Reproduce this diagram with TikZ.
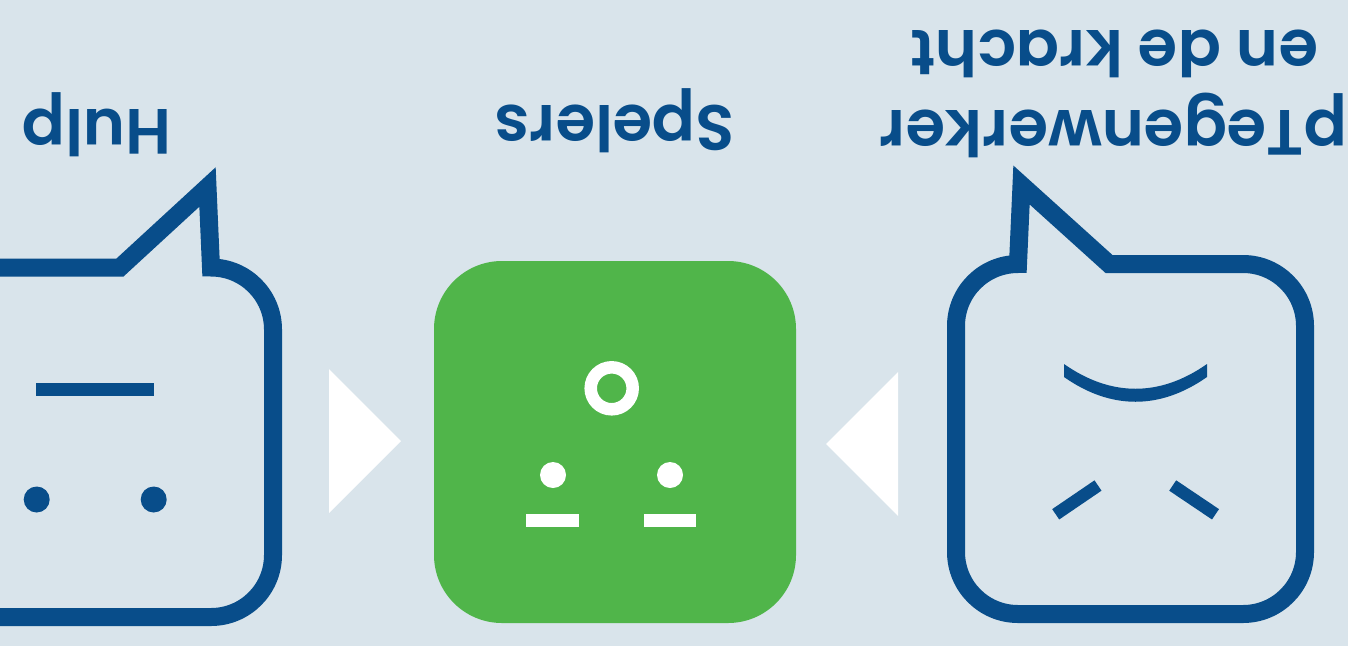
\documentclass[tikz,border=0pt]{standalone}
\usepackage{xcolor}
\usepackage{fontspec}
\setmainfont{Poppins SemiBold}
\usepackage{tikz}
\definecolor{mainc}{HTML}{084D8A}
\definecolor{greenc}{HTML}{50B54A}
\definecolor{softbg}{HTML}{D9E4EB}
\tikzset{
  bubble/.style={draw=mainc,line width=18pt,miter limit=10},
  lbl/.style={text=mainc,rotate=180,anchor=base,inner sep=0pt,font=\fontsize{64}{64}\selectfont},
  bar/.style={line width=12.5pt}
}

\begin{document}
\begin{tikzpicture}[x=1pt,y=-1pt]
\useasboundingbox (0,0) rectangle (1348,646);
\fill[softbg] (0,0) rectangle (1348,646);
\clip (0,0) rectangle (1348,646);
% labels
\node[lbl] (hulp) at (97,109) {Hulp};
\node[lbl] (spelers) at (615,105) {Spelers};
\node[lbl] (tegen) at (1113.5,110) {pTegenwerker};
\node[lbl] (kracht) at (1114.5,30) {en de kracht};
% left bubble
\draw[bubble] (-20,267.5)--(120,267.5)--(207.5,187)--(211,267.5)
  arc[start angle=-90,end angle=0,radius=62]--(273,555)
  arc[start angle=0,end angle=90,radius=62]--(-20,617);
\fill[mainc] (36,383) rectangle (154,396);
\foreach \x in {36.7,153.7}
  \fill[mainc] (\x,499.5) circle (13);
% right bubble
\draw[bubble] (1018,264)--(1021.5,185)--(1109,264)--(1243,264)
  arc[start angle=-90,end angle=0,radius=62]--(1305,552)
  arc[start angle=0,end angle=90,radius=62]--(1018,614)
  arc[start angle=90,end angle=180,radius=62]--(956,326)
  arc[start angle=180,end angle=270,radius=62]--cycle;
\fill[mainc] (1064,364) .. controls (1111,397) and (1160,397) .. (1207,364)
  --(1207,377) .. controls (1160,410) and (1111,410) .. (1064,377)--cycle;
\draw[mainc,bar] (1055.7,514.3)--(1098,485.5);
\draw[mainc,bar] (1172.7,485.5)--(1215.5,514.3);
% arrows
\fill[white] (329,369)--(401,441)--(329,513)--cycle;
\fill[white] (898,372)--(826,444)--(898,516)--cycle;
% green box
\fill[greenc,rounded corners=68pt] (434,261) rectangle (796,623);
\draw[white,line width=12.5pt] (611.7,388.3) circle (21);
\foreach \x/\a/\b in {553/526/579,670/644/696}{
  \fill[white] (\x,475) circle (13);
  \fill[white] (\a,514) rectangle (\b,527);
}
\end{tikzpicture}
\end{document}
